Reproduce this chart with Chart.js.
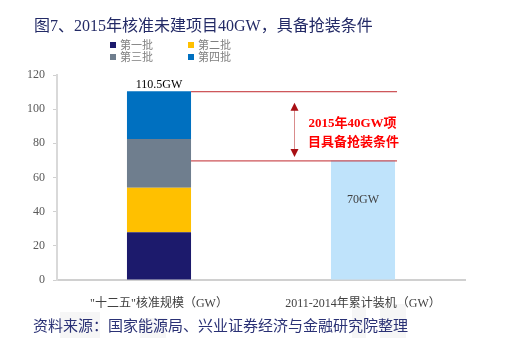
<!DOCTYPE html>
<html>
<head>
<meta charset="utf-8">
<script src="https://cdn.jsdelivr.net/npm/chart.js@4/dist/chart.umd.min.js"></script>
<style>
  html, body { margin: 0; padding: 0; background: #fff; }
  body { width: 505px; height: 338px; position: relative; overflow: hidden; }
  .wm { position: absolute; background: #f6f6f6; }
  #title { position: absolute; left: 34px; top: 12px; font: 16px 'Liberation Serif', 'Noto Sans CJK SC'; color: #232a66; white-space: nowrap; }
  #source { position: absolute; left: 33px; top: 316px; font: 15px 'Noto Sans CJK SC'; color: #2a3175; white-space: nowrap; line-height: 18px; }
  #legend { position: absolute; left: 110px; top: 39px; font: 11px 'Liberation Serif', 'Noto Sans CJK SC'; color: #7f7f7f; }
  .lg { position: absolute; white-space: nowrap; line-height: 13px; }
  .lg i { display: inline-block; width: 6px; height: 6px; margin-right: 4px; vertical-align: 1px; }
  #wrap { position: absolute; left: 0; top: 0; width: 505px; height: 338px; }
</style>
</head>
<body>
<div class="wm" style="left:60px;top:312px;width:40px;height:26px"></div>
<div class="wm" style="left:140px;top:318px;width:26px;height:20px"></div>
<div class="wm" style="left:352px;top:306px;width:14px;height:32px"></div>
<div class="wm" style="left:380px;top:304px;width:26px;height:34px"></div>
<div id="wrap"><canvas id="chart"></canvas></div>
<div id="title">图7、2015年核准未建项目40GW，具备抢装条件</div>
<div id="legend"></div>
<div id="source">资料来源：国家能源局、兴业证券经济与金融研究院整理</div>
<script>
// data
const categories = ['"十二五"核准规模（GW）', '2011-2014年累计装机（GW）'];
const batchNames = ['第一批', '第二批', '第三批', '第四批'];
const batchValues = [28, 26, 28.5, 28];
const batchColors = ['#1c1a6c', '#ffc000', '#6f7e8e', '#0070c0'];
const installedValue = 70;
const approvedTotal = 110.5;
const yTicks = [0, 20, 40, 60, 80, 100, 120];
const noteLines = ['2015年40GW项', '目具备抢装条件'];

// legend (2 x 2)
const legendDiv = document.getElementById('legend');
batchNames.forEach((name, i) => {
    const item = document.createElement('div');
    item.className = 'lg';
    item.style.left = (i % 2 === 0 ? 0 : 78) + 'px';
    item.style.top = (Math.floor(i / 2) * 12) + 'px';
    item.innerHTML = `<i style="background:${batchColors[i]}"></i>${name}`;
    legendDiv.appendChild(item);
});

const datasets = batchNames.map((name, i) => ({
    label: name,
    data: [batchValues[i], null],
    backgroundColor: batchColors[i]
}));
datasets.push({ label: '累计装机', data: [null, installedValue], backgroundColor: '#bfe3fb' });

const serif = "'Liberation Serif', 'Noto Sans CJK SC'";

// red reference lines, arrow, note and value labels
const notePlugin = {
    id: 'notes',
    afterDatasetsDraw(chart) {
        const ctx = chart.ctx;
        const y = chart.scales.y;
        const bar1 = chart.getDatasetMeta(3).data[0];
        const bar2 = chart.getDatasetMeta(4).data[1];
        const x1 = bar1.x + bar1.width / 2;
        const x2 = bar2.x + bar2.width / 2 + 2;
        const yTop = y.getPixelForValue(approvedTotal) + 0.5;
        const yLow = y.getPixelForValue(installedValue) + 0.5;
        ctx.save();
        ctx.strokeStyle = '#c0282e';
        ctx.lineWidth = 1;
        ctx.beginPath();
        ctx.moveTo(x1, yTop); ctx.lineTo(x2, yTop);
        ctx.moveTo(x1, yLow); ctx.lineTo(x2, yLow);
        ctx.stroke();

        // arrow
        const ax = Math.round((x1 + x2) / 2) + 0.5;
        const aTop = yTop + 11, aBot = yLow - 4;
        ctx.strokeStyle = '#d98c8c';
        ctx.beginPath();
        ctx.moveTo(ax, aTop + 6); ctx.lineTo(ax, aBot - 6);
        ctx.stroke();
        ctx.fillStyle = '#a80f14';
        ctx.beginPath();
        ctx.moveTo(ax, aTop); ctx.lineTo(ax - 4, aTop + 8); ctx.lineTo(ax + 4, aTop + 8); ctx.closePath();
        ctx.moveTo(ax, aBot); ctx.lineTo(ax - 4, aBot - 8); ctx.lineTo(ax + 4, aBot - 8); ctx.closePath();
        ctx.fill();

        // note text
        ctx.fillStyle = '#ff0000';
        ctx.font = 'bold 13px ' + serif;
        ctx.textAlign = 'center';
        ctx.textBaseline = 'middle';
        const nx = ax + 58;
        ctx.fillText(noteLines[0], nx, yTop + 32);
        ctx.fillText(noteLines[1], nx + 1, yTop + 51);

        // value labels
        ctx.font = '12px ' + serif;
        ctx.fillStyle = '#000';
        ctx.fillText(approvedTotal + 'GW', bar1.x, yTop - 7);
        ctx.fillStyle = '#404040';
        ctx.fillText(installedValue + 'GW', bar2.x, y.getPixelForValue(47));
        ctx.restore();
    }
};

new Chart(document.getElementById('chart'), {
    type: 'bar',
    data: { labels: categories, datasets: datasets },
    options: {
        responsive: true,
        maintainAspectRatio: false,
        animation: false,
        events: [],
        layout: { padding: { left: 0, top: 75, right: 40, bottom: 0 } },
        datasets: { bar: { categoryPercentage: 1, barPercentage: 0.314 } },
        plugins: { legend: { display: false }, tooltip: { enabled: false } },
        scales: {
            x: {
                stacked: true,
                grid: { display: false },
                border: { display: true, color: '#d0d0d0', width: 2 },
                ticks: { color: '#404040', font: { size: 12, family: serif }, padding: 9, maxRotation: 0 },
                afterFit: (s) => { s.height = 58; }
            },
            y: {
                stacked: true,
                min: 0,
                max: 120,
                afterBuildTicks: (s) => { s.ticks = yTicks.map(v => ({ value: v })); },
                grid: { display: true, drawOnChartArea: false, drawTicks: true, tickLength: 4, color: '#d0d0d0', lineWidth: 1 },
                border: { display: true, color: '#d9d9d9', width: 2 },
                ticks: { color: '#595959', font: { size: 12, family: serif }, padding: 8 },
                afterFit: (s) => { s.width = 57; }
            }
        }
    },
    plugins: [notePlugin]
});
</script>
</body>
</html>
